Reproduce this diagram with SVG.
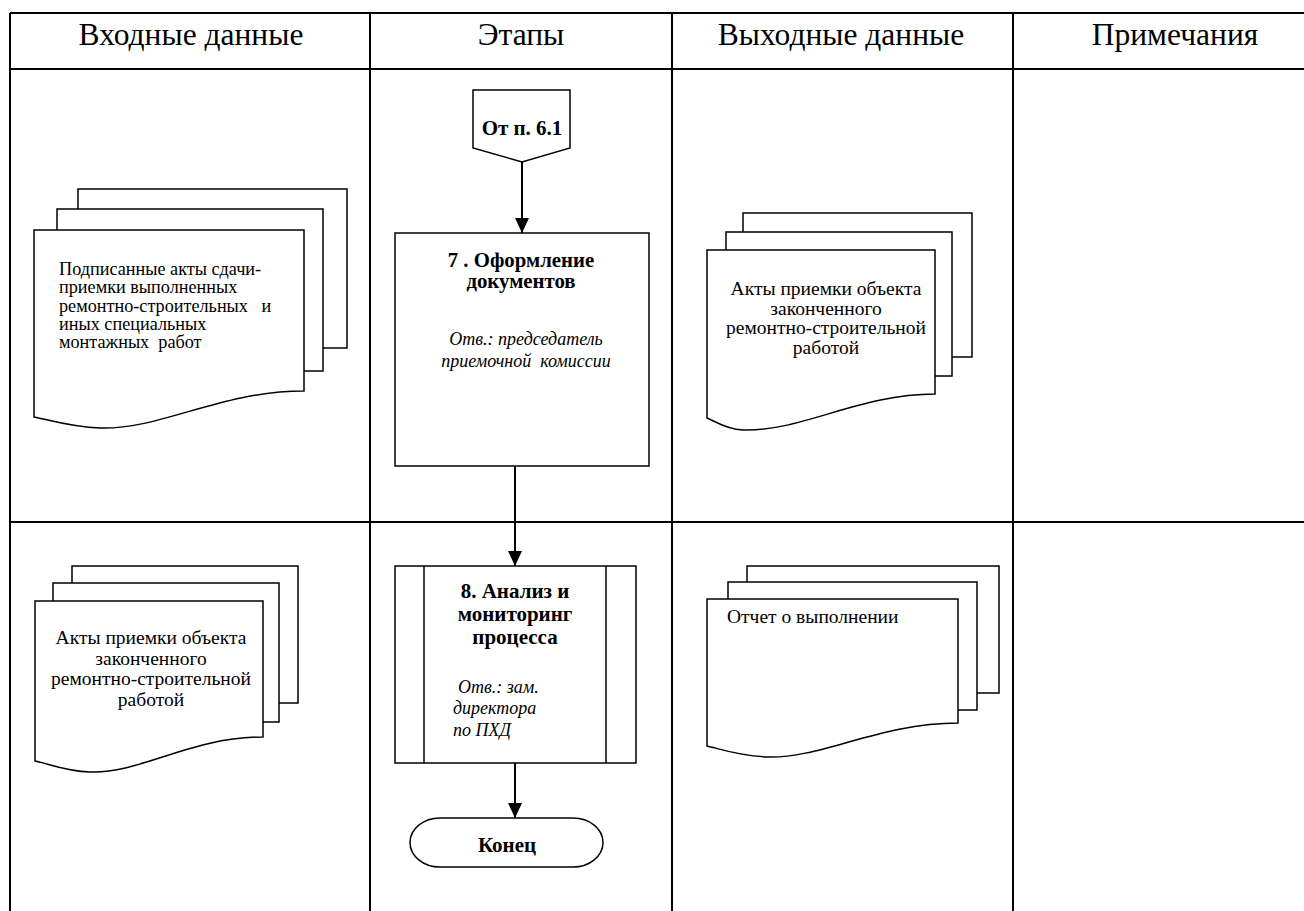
<svg xmlns="http://www.w3.org/2000/svg" width="1304" height="911" viewBox="0 0 1304 911">
<defs>
<style>
.grid{stroke:#000;stroke-width:2;fill:none}
.shape{stroke:#000;stroke-width:1.5;fill:#fff}
.conn{stroke:#000;stroke-width:2;fill:none}
.hdr{font-family:"Liberation Serif","Times New Roman",serif;font-size:31.5px;fill:#000;text-anchor:middle}
.doc{font-family:"Liberation Serif","Times New Roman",serif;font-size:19.5px;fill:#000}
.doc1{font-family:"Liberation Serif","Times New Roman",serif;font-size:18.2px;fill:#000}
.b{font-family:"Liberation Serif","Times New Roman",serif;font-weight:bold;fill:#000;text-anchor:middle}
.i{font-family:"Liberation Serif","Times New Roman",serif;font-style:italic;font-size:18px;fill:#000}
</style>
<marker id="arr" markerWidth="16" markerHeight="16" refX="15" refY="7" orient="auto" markerUnits="userSpaceOnUse">
<path d="M0,0 L15,7 L0,14 Z" fill="#000"/>
</marker>
</defs>
<rect width="1304" height="911" fill="#fff"/>
<g id="table" class="grid">
<line x1="10" y1="13" x2="1304" y2="13"/>
<line x1="10" y1="69" x2="1304" y2="69"/>
<line x1="10" y1="522" x2="1304" y2="522"/>
<line x1="10" y1="13" x2="10" y2="911"/>
<line x1="370" y1="13" x2="370" y2="911"/>
<line x1="672" y1="13" x2="672" y2="911"/>
<line x1="1013" y1="13" x2="1013" y2="911"/>
</g>
<g id="headers">
<text class="hdr" x="191" y="45">Входные данные</text>
<text class="hdr" x="521" y="45">Этапы</text>
<text class="hdr" x="841" y="45">Выходные данные</text>
<text class="hdr" x="1175" y="45">Примечания</text>
</g>
<g id="connectors">
<line class="conn" x1="522" y1="162" x2="522" y2="233" marker-end="url(#arr)"/>
<line class="conn" x1="515" y1="466" x2="515" y2="566" marker-end="url(#arr)"/>
<line class="conn" x1="515" y1="763" x2="515" y2="818" marker-end="url(#arr)"/>
</g>
<g id="in1">
<path class="shape" d="M78,209 L78,189 L347,189 L347,348 L323,348"/>
<path class="shape" d="M57,230 L57,209 L323,209 L323,371 L304,371"/>
<path class="shape" d="M34,230 L304,230 L304,391 C220,391 160,430 100,428 C70,427 50,420 34,417 Z"/>
<text class="doc1"><tspan x="59" y="275">Подписанные акты сдачи-</tspan><tspan x="59" y="293.3">приемки выполненных</tspan><tspan x="59" y="311.6" xml:space="preserve">ремонтно-строительных   и</tspan><tspan x="59" y="330">иных специальных</tspan><tspan x="59" y="348.3" xml:space="preserve">монтажных  работ</tspan></text>
</g>
<g id="start">
<path class="shape" d="M473,90 L570,90 L570,148 L522,162 L473,148 Z"/>
<text class="b" x="522" y="135" font-size="21">От п. 6.1</text>
</g>
<g id="step7">
<rect class="shape" x="395" y="233" width="254" height="233"/>
<text class="b" font-size="20.8"><tspan x="521" y="267">7 . Оформление</tspan><tspan x="521" y="288">документов</tspan></text>
<text class="i" text-anchor="middle"><tspan x="526" y="345">Отв.: председатель</tspan><tspan x="526" y="367" xml:space="preserve">приемочной  комиссии</tspan></text>
</g>
<g id="out1">
<path class="shape" d="M743,232 L743,213 L972,213 L972,357 L952,357"/>
<path class="shape" d="M726,250 L726,232 L952,232 L952,376 L935,376"/>
<path class="shape" d="M707,250 L935,250 L935,394 C860,394 800,432 743,430 C725,429 715,421 707,418 Z"/>
<text class="doc" text-anchor="middle"><tspan x="826" y="295">Акты приемки объекта</tspan><tspan x="826" y="314.5">законченного</tspan><tspan x="826" y="334">ремонтно-строительной</tspan><tspan x="826" y="353.5">работой</tspan></text>
</g>
<g id="in2">
<path class="shape" d="M72,583 L72,566 L298,566 L298,703 L279,703"/>
<path class="shape" d="M53,601 L53,583 L279,583 L279,722 L263,722"/>
<path class="shape" d="M35,601 L263,601 L263,737 C190,737 140,774 90,772 C65,771 50,764 35,761 Z"/>
<text class="doc" text-anchor="middle"><tspan x="151" y="644">Акты приемки объекта</tspan><tspan x="151" y="664.5">законченного</tspan><tspan x="151" y="685">ремонтно-строительной</tspan><tspan x="151" y="706">работой</tspan></text>
</g>
<g id="step8">
<rect class="shape" x="395" y="566" width="241" height="197"/>
<line class="shape" x1="424" y1="566" x2="424" y2="763"/>
<line class="shape" x1="606" y1="566" x2="606" y2="763"/>
<text class="b" font-size="21"><tspan x="515" y="598">8. Анализ и</tspan><tspan x="515" y="621">мониторинг</tspan><tspan x="515" y="644">процесса</tspan></text>
<text class="i"><tspan x="458" y="693">Отв.: зам.</tspan><tspan x="453" y="714">директора</tspan><tspan x="453" y="736">по ПХД</tspan></text>
</g>
<g id="out2">
<path class="shape" d="M747,582 L747,566 L999,566 L999,693 L977,693"/>
<path class="shape" d="M728,599 L728,582 L977,582 L977,710 L958,710"/>
<path class="shape" d="M707,599 L958,599 L958,723 C880,723 820,759 767,757 C740,756 720,749 707,746 Z"/>
<text class="doc" x="727" y="623">Отчет о выполнении</text>
</g>
<g id="end">
<rect class="shape" x="410" y="818" width="193" height="49" rx="30" ry="24.5"/>
<text class="b" x="507" y="852" font-size="21">Конец</text>
</g>
</svg>
